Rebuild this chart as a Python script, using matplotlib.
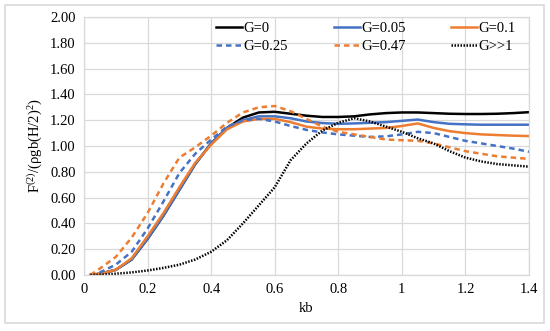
import numpy as np
import matplotlib
matplotlib.use("Agg")
import matplotlib.pyplot as plt
from matplotlib.patches import Rectangle

plt.rcParams['font.family'] = ['Liberation Serif', 'DejaVu Serif']
plt.rcParams['mathtext.fontset'] = 'custom'
plt.rcParams['mathtext.rm'] = 'Liberation Serif'
plt.rcParams['mathtext.it'] = 'Liberation Serif:italic'

# kb values
kb = [0.02, 0.05, 0.1, 0.15, 0.2, 0.25, 0.3, 0.35, 0.4, 0.45, 0.5, 0.55, 0.6, 0.65,
      0.7, 0.75, 0.8, 0.85, 0.9, 0.95, 1.0, 1.05, 1.1, 1.15, 1.2, 1.25, 1.3, 1.35, 1.4]

g_0 = [0, 0.01, 0.04, 0.12, 0.28, 0.46, 0.66, 0.86, 1.02, 1.14, 1.22, 1.26, 1.265, 1.25,
       1.235, 1.225, 1.225, 1.23, 1.245, 1.255, 1.26, 1.26, 1.255, 1.25, 1.248, 1.248, 1.25, 1.255, 1.262]
g_005 = [0, 0.01, 0.04, 0.12, 0.28, 0.46, 0.66, 0.86, 1.02, 1.14, 1.20, 1.23, 1.23, 1.215,
         1.19, 1.178, 1.172, 1.175, 1.18, 1.185, 1.195, 1.205, 1.185, 1.172, 1.168, 1.165, 1.165, 1.165, 1.165]
g_01 = [0, 0.01, 0.04, 0.13, 0.30, 0.48, 0.68, 0.87, 1.01, 1.13, 1.19, 1.21, 1.21, 1.185,
        1.15, 1.135, 1.13, 1.13, 1.135, 1.14, 1.155, 1.175, 1.14, 1.115, 1.10, 1.09, 1.085, 1.08, 1.077]
g_025 = [0, 0.02, 0.08, 0.18, 0.36, 0.57, 0.79, 0.94, 1.05, 1.15, 1.20, 1.21, 1.19, 1.155,
         1.125, 1.105, 1.09, 1.08, 1.07, 1.075, 1.09, 1.11, 1.10, 1.07, 1.04, 1.02, 1.00, 0.98, 0.955]
g_047 = [0, 0.05, 0.14, 0.29, 0.48, 0.71, 0.91, 0.99, 1.08, 1.18, 1.26, 1.30, 1.31, 1.27,
         1.21, 1.15, 1.11, 1.09, 1.07, 1.05, 1.045, 1.04, 1.02, 0.99, 0.96, 0.94, 0.92, 0.91, 0.90]
g_inf = [0, 0.002, 0.01, 0.02, 0.035, 0.055, 0.08, 0.12, 0.18, 0.27, 0.40, 0.54, 0.68, 0.89,
         1.02, 1.12, 1.18, 1.215, 1.19, 1.15, 1.11, 1.06, 1.02, 0.96, 0.91, 0.88, 0.86, 0.85, 0.84]

blue = '#4472C4'
orange = '#ED7D31'
grid_c = '#d9d9d9'

fig = plt.figure(figsize=(5.5, 3.31), dpi=100)
ax = fig.add_axes([84/550, 1 - 275/331, 445/550, 258/331])

lw = 1.8
l0, = ax.plot(kb, g_0, color='black', lw=lw, label='G=0')
l1, = ax.plot(kb, g_005, color=blue, lw=lw, label='G=0.05')
l2, = ax.plot(kb, g_01, color=orange, lw=lw, label='G=0.1')
l3, = ax.plot(kb, g_025, color=blue, lw=lw, ls=(0, (2.2, 1.6)), label='G=0.25')
l4, = ax.plot(kb, g_047, color=orange, lw=lw, ls=(0, (2.2, 1.6)), label='G=0.47')
l5, = ax.plot(kb, g_inf, color='black', lw=lw, ls=(0, (0.6, 0.6)), label='G>>1')

ax.set_xlim(0, 1.4)
ax.set_ylim(0, 2.0)
ax.set_xticks(np.arange(0, 1.41, 0.2))
ax.set_xticklabels(['0', '0.2', '0.4', '0.6', '0.8', '1', '1.2', '1.4'])
ax.set_yticks(np.arange(0, 2.01, 0.2))
ax.set_yticklabels(['%.2f' % v for v in np.arange(0, 2.01, 0.2)])
ax.tick_params(length=0, labelsize=10.5, pad=6)
ax.grid(True, color=grid_c, lw=0.9)
ax.set_axisbelow(True)
for s in ax.spines.values():
    s.set_color(grid_c)
    s.set_linewidth(0.9)

ax.set_xlabel('kb', fontsize=10.5, labelpad=4)
ax.set_ylabel(r'F$^{(2)}$/(ρgb(H/2)$^2$)', fontsize=10.5, labelpad=4)

ax.legend(handles=[l0, l3, l1, l4, l2, l5], ncol=3, frameon=False,
          loc='upper right', bbox_to_anchor=(0.987, 1.01), fontsize=10.5,
          handlelength=1.8, handletextpad=0.1, columnspacing=3.1,
          labelspacing=0.35, borderaxespad=0.1)

fig.patches.append(Rectangle((5/550, 1 - 323/331), 539/550, 318/331,
                             transform=fig.transFigure, fill=False,
                             edgecolor=grid_c, lw=1.2))

fig.savefig('out.png', dpi=100)
